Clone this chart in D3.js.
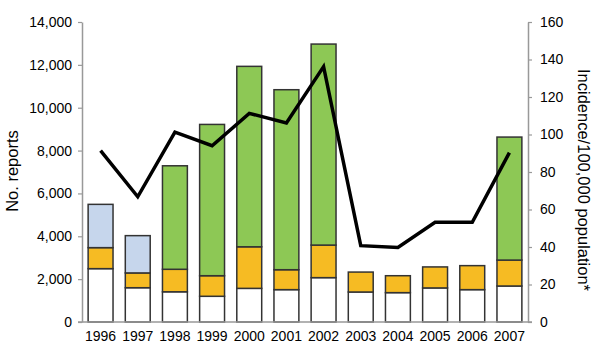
<!DOCTYPE html>
<html><head><meta charset="utf-8">
<script src="https://cdn.jsdelivr.net/npm/d3@7"></script>
<style>
html,body{margin:0;padding:0;background:#fff;}
svg{display:block;font-family:"Liberation Sans",Arial,sans-serif;}
</style></head>
<body>
<svg id="chart" width="600" height="355"></svg>
<script>
const years = ["1996","1997","1998","1999","2000","2001","2002","2003","2004","2005","2006","2007"];
const whiteVals  = [2490,1600,1410,1200,1570,1510,2070,1400,1370,1590,1510,1680];
const orangeVals = [980,690,1050,960,1940,930,1520,930,790,980,1120,1210];
const blueVals   = [2020,1740,0,0,0,0,0,0,0,0,0,0];
const greenVals  = [0,0,4830,7060,8420,8400,9380,0,0,0,0,5740];
const incidence  = [91.4,66.8,101.3,94,111.3,106.1,136.2,40.7,39.8,53.2,53.2,90.3];
const leftTicks  = [0,2000,4000,6000,8000,10000,12000,14000];
const rightTicks = [0,20,40,60,80,100,120,140,160];

(function(){
const seriesKeys = ["white","orange","blue","green"];
const colors = {white:"#ffffff", orange:"#f6bb23", blue:"#c6d6ec", green:"#8dc855"};
const table = years.map((y,i)=>({year:y, white:whiteVals[i], orange:orangeVals[i], blue:blueVals[i], green:greenVals[i], inc:incidence[i]}));

const svg = d3.select("#chart");
const mLeft = 82, mRight = 528, mTop = 22, mBottom = 322;

const x = d3.scaleBand().domain(years).range([mLeft,mRight]).paddingInner(0.33).paddingOuter(0.165);
const y = d3.scaleLinear().domain([0,14000]).range([mBottom,mTop]);
const y2 = d3.scaleLinear().domain([0,160]).range([mBottom,mTop]);

const stack = d3.stack().keys(seriesKeys)(table);

const g = svg.append("g");
stack.forEach(layer=>{
  g.selectAll(null).data(layer.filter(d=>d[1]-d[0]>0)).enter().append("rect")
    .attr("x", d=>x(d.data.year))
    .attr("width", x.bandwidth())
    .attr("y", d=>y(d[1]))
    .attr("height", d=>y(d[0])-y(d[1]))
    .attr("fill", colors[layer.key])
    .attr("stroke","#333")
    .attr("stroke-width",1.5);
});

svg.append("line").attr("x1",78).attr("x2",532).attr("y1",mBottom).attr("y2",mBottom)
  .attr("stroke","#999").attr("stroke-width",1.5);

const la = svg.append("g").attr("transform",`translate(${mLeft},0)`)
  .call(d3.axisLeft(y).tickValues(leftTicks).tickSize(4).tickSizeOuter(0).tickPadding(6).tickFormat(d3.format(",")));
const ra = svg.append("g").attr("transform",`translate(${mRight},0)`)
  .call(d3.axisRight(y2).tickValues(rightTicks).tickSize(4).tickSizeOuter(0).tickPadding(8));
[la,ra].forEach(a=>{
  a.select(".domain").attr("stroke","#999").attr("stroke-width",1.5);
  a.selectAll(".tick line").attr("stroke","#999").attr("stroke-width",1.2);
  a.selectAll(".tick text").attr("fill","#000").style("font-size","14px").style("font-family","'Liberation Sans',Arial,sans-serif");
});

svg.append("g").selectAll("text").data(years).enter().append("text")
  .attr("x", d=>x(d)+x.bandwidth()/2).attr("y",341)
  .attr("text-anchor","middle").style("font-size","14px").attr("fill","#000").text(d=>d);

const line = d3.line().x(d=>x(d.year)+x.bandwidth()/2).y(d=>y2(d.inc));
svg.append("path").datum(table).attr("d",line).attr("fill","none")
  .attr("stroke","#000").attr("stroke-width",3.5).attr("stroke-linejoin","miter");

svg.append("text").attr("transform","translate(18,171) rotate(-90)")
  .attr("text-anchor","middle").style("font-size","16.5px").attr("fill","#000").text("No. reports");
svg.append("text").attr("transform","translate(578,180) rotate(90)")
  .attr("text-anchor","middle").style("font-size","16.5px").attr("fill","#000").text("Incidence/100,000 population*");
})();
</script>
</body></html>
